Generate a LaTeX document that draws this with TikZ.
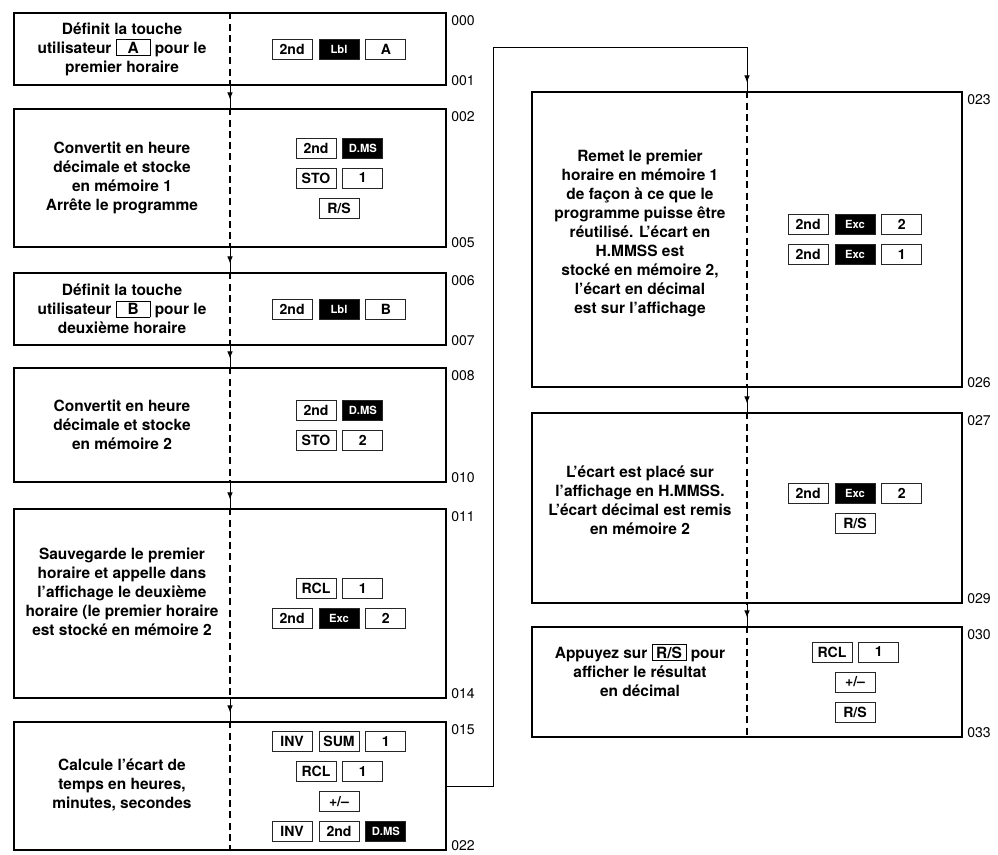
\documentclass[tikz,border=0pt]{standalone}
\usepackage{fontspec}
\setmainfont{TeX Gyre Heros}
\usepackage{tikz}
\usetikzlibrary{positioning,arrows.meta,decorations.markings}
\newcommand\inkey[1]{{\setlength\fboxsep{1.5pt}\setlength\fboxrule{0.6pt}\fbox{\makebox[0.72cm]{#1}}}}

\begin{document}
\begin{tikzpicture}[x=0.025cm,y=-0.025cm,
  stepbox/.style={draw,line width=1pt,minimum width=10.8cm,inner sep=0pt},
  divider/.style={line width=0.8pt,dash pattern=on 5pt off 3pt},
  note/.style={align=center,font=\fontsize{11}{13.5}\selectfont\bfseries},
  key/.style={draw=black!85,line width=0.6pt,minimum width=1cm,minimum height=0.5cm,inner sep=1pt,
    font=\fontsize{10}{10}\selectfont\bfseries},
  bkey/.style={key,fill=black,text=white,font=\fontsize{8}{8}\selectfont\bfseries},
  addr/.style={font=\fontsize{10}{10}\selectfont,inner sep=1pt,xshift=2pt},
  flow/.style={line width=0.7pt,postaction=decorate,
    decoration={markings,mark=at position -0.22cm with {\arrow{Latex[length=5pt,width=4pt]}}}}]
  \path[fill=white,use as bounding box] (0,0) rectangle (998,854);

  % left column
  \node[stepbox,minimum height=1.8cm] (s1) at (230,49) {};
  \node[stepbox,minimum height=3.45cm] (s2) at (230,178) {};
  \node[stepbox,minimum height=1.8cm] (s3) at (230,309) {};
  \node[stepbox,minimum height=2.85cm] (s4) at (230,425) {};
  \node[stepbox,minimum height=4.725cm] (s5) at (230,603.5) {};
  \node[stepbox,minimum height=3.2cm] (s6) at (230,786) {};
  % right column
  \node[stepbox,minimum width=10.75cm,minimum height=7.375cm] (r1) at (747,239.5) {};
  \node[stepbox,minimum width=10.75cm,minimum height=4.75cm] (r2) at (747,508) {};
  \node[stepbox,minimum width=10.75cm,minimum height=2.75cm] (r3) at (747,682) {};

  \foreach \b in {s1,s2,s3,s4,s5,s6,r1,r2,r3}
    \draw[divider] (\b.north) -- (\b.south);

  % program addresses
  \foreach \b/\t/\e in {s1/000/001,s2/002/005,s3/006/007,s4/008/010,s5/011/014,
                        s6/015/022,r1/023/026,r2/027/029,r3/030/033}{
    \node[addr,anchor=north west,yshift=-1pt] (\b-top) at (\b.north east) {\t};
    \node[addr,anchor=south west,yshift=-1pt] (\b-end) at (\b.south east) {\e};
  }

  % flow
  \foreach \a/\b in {s1/s2,s2/s3,s3/s4,s4/s5,s5/s6,r1/r2,r2/r3}
    \draw[flow] (\a.south) -- (\b.north);
  \coordinate (turn) at (493,47);
  \draw[flow] (s6.east) -| (turn) -| (r1.north);

  % what each step does
  \node[note] (t1) at (122,49) {Définit la touche\\utilisateur \inkey{A} pour le\\premier horaire};
  \node[note] (t2) at (122,178) {Convertit en heure\\décimale et stocke\\en mémoire 1\\Arrête le programme};
  \node[note] (t3) at (122,309) {Définit la touche\\utilisateur \inkey{B} pour le\\deuxième horaire};
  \node[note] (t4) at (122,425) {Convertit en heure\\décimale et stocke\\en mémoire 2};
  \node[note] (t5) at (122,592) {Sauvegarde le premier\\horaire et appelle dans\\l'affichage le deuxième\\horaire (le premier horaire\\est stocké en mémoire 2};
  \node[note] (t6) at (122,785) {Calcule l'écart de\\temps en heures,\\minutes, secondes};
  \node[note] (t7) at (640,233) {Remet le premier\\horaire en mémoire 1\\de façon à ce que le\\programme puisse être\\réutilisé. L'écart en\\H.MMSS est\\stocké en mémoire 2,\\l'écart en décimal\\est sur l'affichage};
  \node[note] (t8) at (640,500) {L'écart est placé sur\\l'affichage en H.MMSS.\\L'écart décimal est remis\\en mémoire 2};
  \node[note] (t9) at (640,670) {Appuyez sur \inkey{R/S} pour\\afficher le résultat\\en décimal};

  % keystrokes
  \node[bkey] (k1b) at (339,49) {Lbl};
  \node[key,left=0.15cm of k1b] (k1a) {2nd};
  \node[key,right=0.15cm of k1b] (k1c) {A};

  \node[key] (k2a) at (316,148) {2nd};
  \node[bkey,right=0.15cm of k2a] (k2b) {D.MS};
  \node[key] (k2c) at (316,178) {STO};
  \node[key,right=0.15cm of k2c] (k2d) {1};
  \node[key] (k2e) at (339,208) {R/S};

  \node[bkey] (k3b) at (339,309) {Lbl};
  \node[key,left=0.15cm of k3b] (k3a) {2nd};
  \node[key,right=0.15cm of k3b] (k3c) {B};

  \node[key] (k4a) at (316,410) {2nd};
  \node[bkey,right=0.15cm of k4a] (k4b) {D.MS};
  \node[key] (k4c) at (316,440) {STO};
  \node[key,right=0.15cm of k4c] (k4d) {2};

  \node[key] (k5a) at (316,588.5) {RCL};
  \node[key,right=0.15cm of k5a] (k5b) {1};
  \node[bkey] (k5d) at (339,618.5) {Exc};
  \node[key,left=0.15cm of k5d] (k5c) {2nd};
  \node[key,right=0.15cm of k5d] (k5e) {2};

  \node[key] (k6b) at (339,741.5) {SUM};
  \node[key,left=0.15cm of k6b] (k6a) {INV};
  \node[key,right=0.15cm of k6b] (k6c) {1};
  \node[key] (k6d) at (316,771.5) {RCL};
  \node[key,right=0.15cm of k6d] (k6e) {1};
  \node[key] (k6f) at (339,801.5) {+/--};
  \node[key] (k6h) at (339,831.5) {2nd};
  \node[key,left=0.15cm of k6h] (k6g) {INV};
  \node[bkey,right=0.15cm of k6h] (k6i) {D.MS};

  \node[bkey] (k7b) at (855,224.5) {Exc};
  \node[key,left=0.15cm of k7b] (k7a) {2nd};
  \node[key,right=0.15cm of k7b] (k7c) {2};
  \node[bkey] (k7e) at (855,254.5) {Exc};
  \node[key,left=0.15cm of k7e] (k7d) {2nd};
  \node[key,right=0.15cm of k7e] (k7f) {1};

  \node[bkey] (k8b) at (855,493) {Exc};
  \node[key,left=0.15cm of k8b] (k8a) {2nd};
  \node[key,right=0.15cm of k8b] (k8c) {2};
  \node[key] (k8d) at (855,523) {R/S};

  \node[key] (k9a) at (832,652) {RCL};
  \node[key,right=0.15cm of k9a] (k9b) {1};
  \node[key] (k9c) at (855,682) {+/--};
  \node[key] (k9d) at (855,712) {R/S};
\end{tikzpicture}
\end{document}
